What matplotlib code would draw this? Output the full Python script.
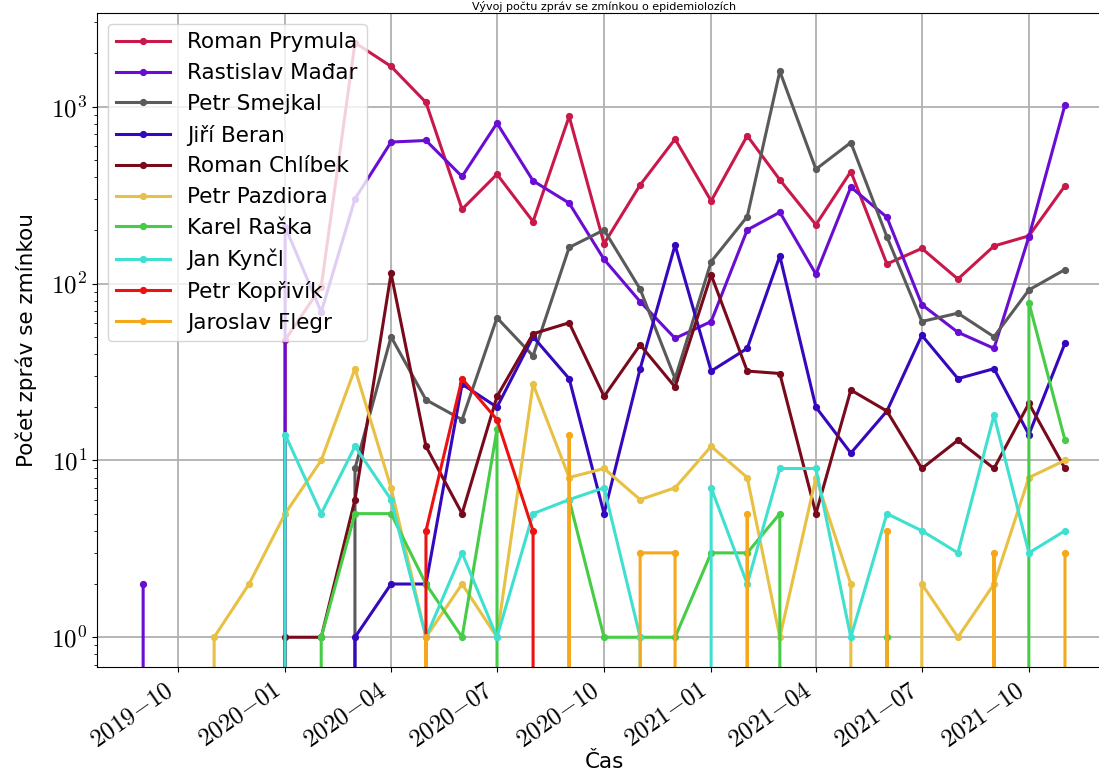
#!/usr/bin/env python3
import numpy as np
import pandas as pd
import matplotlib
matplotlib.use('Agg')
import matplotlib.pyplot as plt
import matplotlib.dates as mdates
from matplotlib.ticker import FuncFormatter

matplotlib.rcParams.update({'font.size': 15.5, 'font.family': ['DejaVu Sans'],
                            'mathtext.fontset': 'cm'})

# monthly counts, 2019-09 .. 2021-11
months = pd.date_range('2019-09-01', periods=27, freq='MS')

names = ["Roman Prymula", "Rastislav Mađar", "Petr Smejkal", "Jiří Beran",
         "Roman Chlíbek", "Petr Pazdiora", "Karel Raška", "Jan Kynčl",
         "Petr Kopřivík", "Jaroslav Flegr"]
colors = ['#c9184a', '#6a0dd2', '#5a5a5a', '#3508bd', '#780a1c',
          '#e8c043', '#46cc46', '#40e0d0', '#ee1111', '#f5a81c']

prymula  = [0, 0, 0, 0, 48, 96, 2300, 1690, 1057, 263, 415, 224, 881, 168, 361, 656,
            293, 685, 386, 215, 430, 129, 158, 106, 163, 186, 357]
madar    = [2, 0, 0, 0, 210, 69, 301, 631, 644, 403, 807, 381, 285, 137, 79, 49,
            61, 201, 253, 113, 351, 237, 76, 53, 43, 184, 1025]
smejkal  = [0, 0, 0, 0, 0, 0, 9, 50, 22, 17, 64, 39, 160, 201, 93, 29,
            133, 239, 1585, 443, 627, 184, 61, 68, 50, 92, 120]
beran    = [0, 0, 0, 0, 0, 0, 1, 2, 2, 27, 20, 50, 29, 5, 33, 165,
            32, 43, 143, 20, 11, 19, 51, 29, 33, 14, 46]
chlibek  = [0, 0, 0, 0, 1, 1, 6, 114, 12, 5, 23, 52, 60, 23, 45, 26,
            112, 32, 31, 5, 25, 19, 9, 13, 9, 21, 9]
pazdiora = [0, 0, 1, 2, 5, 10, 33, 7, 1, 2, 1, 27, 8, 9, 6, 7,
            12, 8, 1, 8, 2, 0, 2, 1, 2, 8, 10]
raska    = [0, 0, 0, 0, 0, 1, 5, 5, 2, 1, 15, 0, 6, 1, 1, 1,
            3, 3, 5, 0, 0, 1, 0, 0, 0, 78, 13]
kyncl    = [0, 0, 0, 0, 14, 5, 12, 6, 1, 3, 1, 5, 6, 7, 1, 0,
            7, 2, 9, 9, 1, 5, 4, 3, 18, 3, 4]
koprivik = [0, 0, 0, 0, 0, 0, 0, 0, 4, 29, 17, 4, 0, 0, 0, 0,
            0, 0, 0, 0, 0, 0, 0, 0, 0, 0, 0]
flegr    = [0, 0, 0, 0, 0, 0, 0, 0, 1, 0, 0, 0, 14, 0, 3, 3,
            0, 5, 0, 0, 0, 4, 0, 0, 3, 0, 3]

series = [prymula, madar, smejkal, beran, chlibek, pazdiora, raska, kyncl, koprivik, flegr]

fig = plt.figure(figsize=(10.99, 7.78), dpi=100)
ax = fig.add_axes([0.0883, 0.1427, 0.9227, 0.8406])
ax.set_yscale('log', nonpositive='clip')

for name, vals, c in zip(names, series, colors):
    ax.plot(months, vals, '-o', color=c, label=name, linewidth=2.2, markersize=4.2)

def date_fmt(x, pos):
    d = mdates.num2date(x)
    return r"$%s{-}%s$" % (d.strftime('%Y'), d.strftime('%m'))

ax.xaxis.set_major_locator(mdates.MonthLocator(bymonth=[1, 4, 7, 10]))
ax.xaxis.set_major_formatter(FuncFormatter(date_fmt))
ax.yaxis.set_major_formatter(FuncFormatter(lambda y, pos: "$10^{%d}$" % round(np.log10(y))))
ax.tick_params(axis='x', labelsize=18, labelrotation=35, pad=4)
ax.tick_params(axis='y', labelsize=18)
plt.setp(ax.get_xticklabels(), ha='right')

ax.grid(True, which='major', color='#b0b0b0', linewidth=1.3)
ax.set_axisbelow(True)
ax.set_xlabel("Čas", labelpad=0)
ax.set_ylabel("Počet zpráv se zmínkou", labelpad=10)
ax.set_title("Vývoj počtu zpráv se zmínkou o epidemiolozích", fontsize=8, pad=2)
ax.legend(loc='upper left', handlelength=2.5, fontsize=15.5)

plt.savefig('out.png', dpi=100)
